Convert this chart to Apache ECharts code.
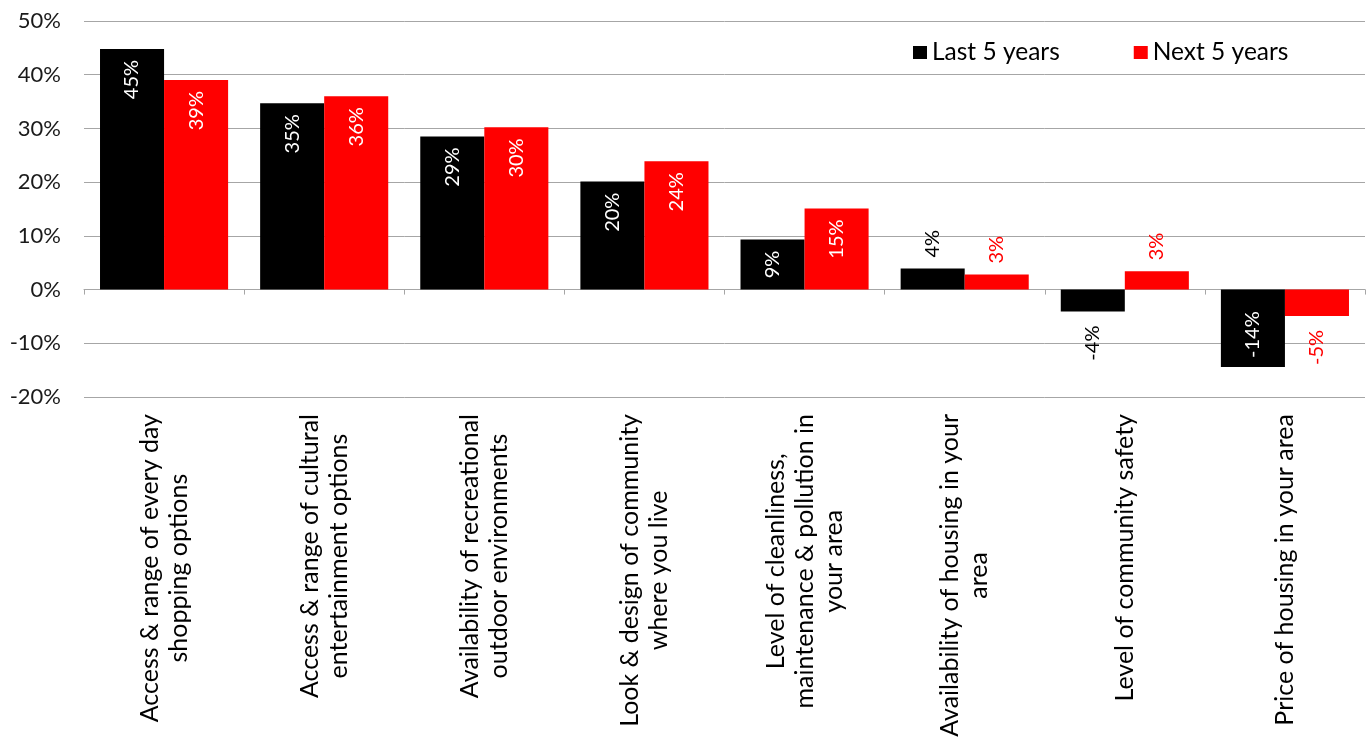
<!DOCTYPE html>
<html>
<head>
<meta charset="utf-8">
<script src="https://cdn.jsdelivr.net/npm/echarts@6/dist/echarts.min.js"></script>
<style>
html,body{margin:0;padding:0;background:#fff;}
#chart{width:1371px;height:749px;}
</style>
</head>
<body>
<div id="chart"></div>
<script>
var categories = [
  "Access & range of every day\nshopping options",
  "Access & range of cultural\nentertainment options",
  "Availability of recreational\noutdoor environments",
  "Look & design of community\nwhere you live",
  "Level of cleanliness,\nmaintenance & pollution in\nyour area",
  "Availability of housing in your\narea",
  "Level of community safety",
  "Price of housing in your area"
];
var seriesNames = ["Last 5 years", "Next 5 years"];
var last5 = [44.8, 34.7, 28.5, 20.1, 9.3, 3.9, -4.1, -14.4];
var next5 = [39.0, 36.0, 30.2, 23.9, 15.1, 2.8, 3.4, -4.9];
var yTicks = [-20, -10, 0, 10, 20, 30, 40, 50];

var FONT = "Lato";
var colors = ["#000000", "#ff0000"];

function buildData(values, color) {
  return values.map(function (v) {
    var inside = Math.abs(v) >= 8;
    var lab;
    if (v >= 0) {
      lab = inside
        ? { position: "insideTop", align: "right", distance: 11, color: "#ffffff" }
        : { position: "top", align: "left", distance: 11, color: color };
    } else {
      lab = inside
        ? { position: "insideBottom", align: "left", distance: 9, color: "#ffffff" }
        : { position: "bottom", align: "right", distance: 14, color: color };
    }
    lab.verticalAlign = "middle";
    return { value: v, label: lab };
  });
}

var chart = echarts.init(document.getElementById("chart"), null, { renderer: "canvas" });
chart.setOption({
  animation: false,
  textStyle: { fontFamily: FONT },
  legend: {
    data: seriesNames,
    left: 908,
    top: 35,
    itemWidth: 14,
    itemHeight: 13,
    itemGap: 74,
    icon: "rect",
    textStyle: { fontFamily: FONT, fontSize: 24.5, color: "#000", padding: [0, 0, 0, 0] }
  },
  grid: { left: 84, right: 6, top: 21, bottom: 352, containLabel: false, outerBoundsMode: "none" },
  xAxis: {
    type: "category",
    data: categories,
    axisLine: { onZero: true, lineStyle: { color: "#a6a6a6", width: 1 } },
    axisTick: { show: true, length: 5, lineStyle: { color: "#a6a6a6" } },
    axisLabel: {
      rotate: 90,
      interval: 0,
      margin: 17,
      fontFamily: FONT,
      fontSize: 25,
      color: "#000",
      formatter: function (v) {
        return v.split("\n").map(function (s) { return "{c|" + s + "}"; }).join("\n");
      },
      rich: {
        c: { align: "center", fontFamily: FONT, fontSize: 25, lineHeight: 29, color: "#000" }
      }
    }
  },
  yAxis: {
    type: "value",
    min: yTicks[0],
    max: yTicks[yTicks.length - 1],
    interval: 10,
    axisLine: { show: false },
    axisTick: { show: false },
    splitLine: { lineStyle: { color: "#a6a6a6", width: 1 } },
    axisLabel: {
      formatter: "{value}%",
      margin: 23,
      fontFamily: FONT,
      fontSize: 22,
      color: "#1a1a1a"
    }
  },
  series: [
    {
      name: seriesNames[0],
      type: "bar",
      data: buildData(last5, colors[0]),
      itemStyle: { color: colors[0] },
      barGap: "0%",
      barCategoryGap: "20%",
      label: {
        show: true,
        rotate: 90,
        fontFamily: FONT,
        fontSize: 20,
        formatter: function (p) { return Math.round(p.value) + "%"; }
      }
    },
    {
      name: seriesNames[1],
      type: "bar",
      data: buildData(next5, colors[1]),
      itemStyle: { color: colors[1] },
      barGap: "0%",
      barCategoryGap: "20%",
      label: {
        show: true,
        rotate: 90,
        fontFamily: FONT,
        fontSize: 20,
        formatter: function (p) { return Math.round(p.value) + "%"; }
      }
    }
  ]
});
</script>
</body>
</html>
